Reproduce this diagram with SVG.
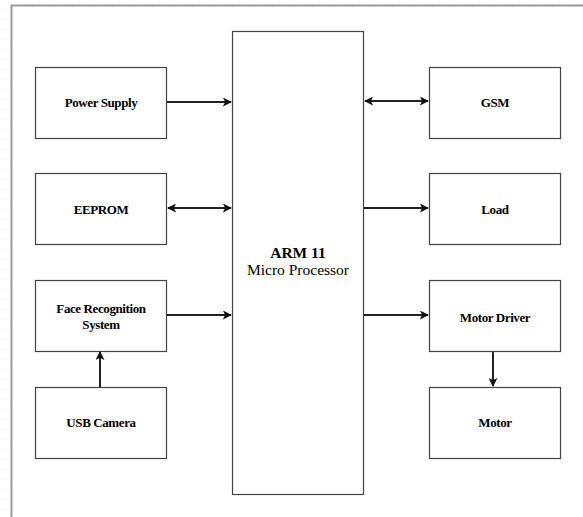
<svg xmlns="http://www.w3.org/2000/svg" width="583" height="517" viewBox="0 0 583 517">
<defs>
<pattern id="grid" width="10" height="10" patternUnits="userSpaceOnUse">
<path d="M10 0V10H0" fill="none" stroke="#f3f3f3" stroke-width="1"/>
</pattern>
<marker id="ah" viewBox="0 0 10 10" refX="9" refY="5" markerWidth="4.5" markerHeight="4.5" orient="auto-start-reverse" markerUnits="strokeWidth">
<path d="M0 0L10 5L0 10L2.5 5Z" fill="#111"/>
</marker>
</defs>
<style>
.box{fill:#fff;stroke:#444;stroke-width:1.2}
.lbl{font-size:13px;font-weight:bold;fill:#000;text-anchor:middle;letter-spacing:-0.4px}
.big{font-size:15.5px;fill:#000;text-anchor:middle}
.con{stroke:#222;stroke-width:2;fill:none}
</style>
<rect width="583" height="517" fill="#fff"/>
<rect width="583" height="517" fill="url(#grid)"/>
<rect x="11" y="5" width="572" height="512" fill="#fff"/>
<path d="M11.5 517V5.5H583" fill="none" stroke="#999" stroke-width="2"/>

<g font-family="Liberation Serif, DejaVu Serif, serif">
<g id="arm">
<rect class="box" x="232.5" y="31.5" width="131" height="463"/>
<text class="big" x="298" y="258" font-weight="bold">ARM 11</text>
<text class="big" x="298" y="275">Micro Processor</text>
</g>
<g id="power-supply">
<rect class="box" x="35.5" y="67.5" width="131" height="71"/>
<text class="lbl" x="101" y="107">Power Supply</text>
</g>
<g id="eeprom">
<rect class="box" x="35.5" y="173.5" width="131" height="71"/>
<text class="lbl" x="101" y="214">EEPROM</text>
</g>
<g id="face-recognition">
<rect class="box" x="35.5" y="280.5" width="131" height="71"/>
<text class="lbl" x="101" y="313">Face Recognition</text>
<text class="lbl" x="101" y="329">System</text>
</g>
<g id="usb-camera">
<rect class="box" x="35.5" y="387.5" width="131" height="71"/>
<text class="lbl" x="101" y="427">USB Camera</text>
</g>
<g id="gsm">
<rect class="box" x="429.5" y="67.5" width="131" height="71"/>
<text class="lbl" x="495" y="107">GSM</text>
</g>
<g id="load">
<rect class="box" x="429.5" y="173.5" width="131" height="71"/>
<text class="lbl" x="495" y="214">Load</text>
</g>
<g id="motor-driver">
<rect class="box" x="429.5" y="280.5" width="131" height="71"/>
<text class="lbl" x="495" y="322">Motor Driver</text>
</g>
<g id="motor">
<rect class="box" x="429.5" y="387.5" width="131" height="71"/>
<text class="lbl" x="495" y="427">Motor</text>
</g>
</g>

<g id="connectors">
<line class="con" x1="167" y1="102" x2="231" y2="102" marker-end="url(#ah)"/>
<line class="con" x1="168" y1="208" x2="231" y2="208" marker-start="url(#ah)" marker-end="url(#ah)"/>
<line class="con" x1="167" y1="315" x2="231" y2="315" marker-end="url(#ah)"/>
<line class="con" x1="100" y1="387" x2="100" y2="352" marker-end="url(#ah)"/>
<line class="con" x1="365" y1="101" x2="428" y2="101" marker-start="url(#ah)" marker-end="url(#ah)"/>
<line class="con" x1="364" y1="208" x2="428" y2="208" marker-end="url(#ah)"/>
<line class="con" x1="364" y1="315" x2="428" y2="315" marker-end="url(#ah)"/>
<line class="con" x1="493" y1="352" x2="493" y2="386" marker-end="url(#ah)"/>
</g>
</svg>
